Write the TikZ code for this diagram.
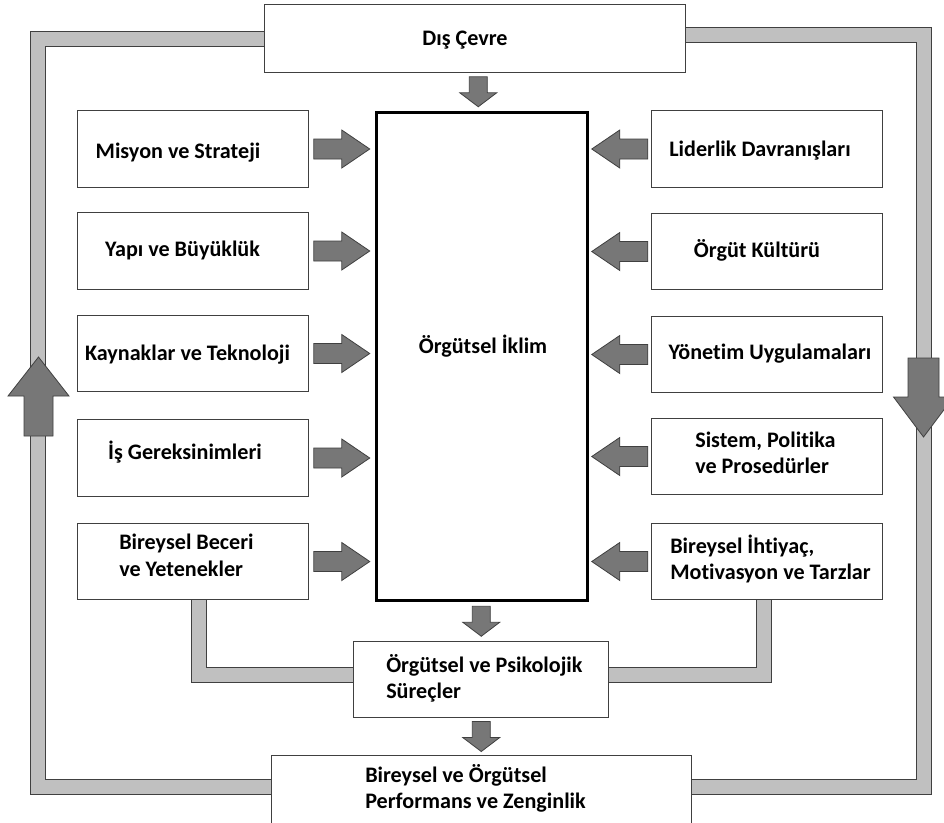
\documentclass[tikz,border=0pt]{standalone}
\usepackage{fontspec}
\setmainfont{Carlito}[Ligatures=CommonOff]
\usetikzlibrary{calc}

% one drawing unit = one pixel of a 944 x 822 canvas, y running downwards
\newlength\pxu
\setlength\pxu{0.75pt}

\definecolor{bandfill}{HTML}{C0C0C0}
\definecolor{edgegray}{HTML}{404040}
\definecolor{arrowfill}{HTML}{777777}

\pgfdeclarelayer{bands}
\pgfsetlayers{bands,main}

\tikzset{
  box/.style={rectangle, draw=edgegray, line width=1\pxu, fill=white, inner sep=0pt, anchor=north west},
  txt/.style={inner sep=0pt, font=\bfseries\fontsize{16.6}{20}\selectfont, anchor=base},
  txtl/.style={txt, anchor=base west},
  band/.style={draw=edgegray, line width=1\pxu, double=bandfill, double distance=14\pxu},
  blockarr/.style={draw=edgegray, line width=0.8\pxu, fill=arrowfill, line join=miter},
}

% block arrows centred on a named point
\newcommand\arrowright[1]{\draw[blockarr] ($(#1)+(-28,-10)$) -- ++(28,0) -- ++(0,-9) -- ++(28,19) -- ++(-28,19) -- ++(0,-9) -- ++(-28,0) -- cycle;}
\newcommand\arrowleft[1]{\draw[blockarr] ($(#1)+(28,-10)$) -- ++(-28,0) -- ++(0,-9) -- ++(-28,19) -- ++(28,19) -- ++(0,-9) -- ++(28,0) -- cycle;}
\newcommand\arrowdown[1]{\draw[blockarr] ($(#1)+(-9,-15)$) -- ++(0,16) -- ++(-9.5,0) -- ++(18.5,14) -- ++(18.5,-14) -- ++(-9.5,0) -- ++(0,-16) -- cycle;}

\begin{document}
\begin{tikzpicture}[x=0.75pt, y=-0.75pt]
\useasboundingbox (0,0) rectangle (944,822);
\clip (0,0) rectangle (944,822);

% ---- boxes ----
\node[box, minimum width=421\pxu, minimum height=68\pxu] (env) at (264,4) {};
\node[box, minimum width=231\pxu, minimum height=77\pxu] (l1) at (77,110) {};
\node[box, minimum width=231\pxu, minimum height=77\pxu] (l2) at (77,212) {};
\node[box, minimum width=231\pxu, minimum height=76\pxu] (l3) at (77,315) {};
\node[box, minimum width=231\pxu, minimum height=77\pxu] (l4) at (77,419) {};
\node[box, minimum width=231\pxu, minimum height=76\pxu] (l5) at (77,523) {};
\node[box, minimum width=231\pxu, minimum height=77\pxu] (r1) at (651,110) {};
\node[box, minimum width=231\pxu, minimum height=76\pxu] (r2) at (651,213) {};
\node[box, minimum width=231\pxu, minimum height=76\pxu] (r3) at (651,316) {};
\node[box, minimum width=231\pxu, minimum height=76\pxu] (r4) at (651,418) {};
\node[box, minimum width=231\pxu, minimum height=76\pxu] (r5) at (651,523) {};
\node[box, draw=black, line width=3\pxu, minimum width=211\pxu, minimum height=488\pxu] (ctr) at (374.5,110.5) {};
\node[box, minimum width=255\pxu, minimum height=76\pxu] (proc) at (353,641) {};
\node[box, minimum width=420\pxu, minimum height=80\pxu] (perf) at (271,755) {};

% ---- feedback bands, kept underneath the boxes ----
\coordinate (ol) at (38,786.5);
\coordinate (ortop) at (923.5,34.5);
\coordinate (or) at (923.5,786.5);
\coordinate (il) at (198.5,674.5);
\coordinate (ir) at (763.5,674.5);
\begin{pgfonlayer}{bands}
  \fill[white] (0,0) rectangle (944,822);
  \draw[band] (env.west) -| (ol) -- (ol -| perf.west);
  \draw[band] (env.east |- ortop) -- (ortop) -- (or) -- (or -| perf.east);
  \draw[band] (il |- l5.south) -- (il) -- (il -| proc.west);
  \draw[band] (ir |- r5.south) -- (ir) -- (ir -| proc.east);
\end{pgfonlayer}

% ---- large direction arrows on the outer loop ----
\draw[blockarr] (24,436) -- (24,396) -- (8,396) -- (38.5,357) -- (69,396) -- (53,396) -- (53,436) -- cycle;
\draw[blockarr] (908,358) -- (939,358) -- (939,397) -- (953.5,397) -- (923.5,437) -- (893.5,397) -- (908,397) -- cycle;

% ---- block arrows between boxes ----
\foreach \i in {1,...,5}{
  \coordinate (al\i) at ($(l\i.east)!0.5!(ctr.west |- l\i.east)$);
  \coordinate (ar\i) at ($(ctr.east |- r\i.west)!0.5!(r\i.west)$);
}
\arrowright{al1}\arrowright{al2}\arrowright{al3}\arrowright{al4}\arrowright{al5}
\arrowleft{ar1}\arrowleft{ar2}\arrowleft{ar3}\arrowleft{ar4}\arrowleft{ar5}
\coordinate (d1) at ($(env.south)!0.5!(ctr.north)$);
\coordinate (d2) at ($(ctr.south)!0.5!(proc.north)$);
\coordinate (d3) at ($(proc.south)!0.5!(perf.north)$);
\arrowdown{d1}\arrowdown{d2}\arrowdown{d3}

% ---- labels ----
\node[txt] (tenv) at (465,45) {Dış Çevre};
\node[txt] (tctr) at (483,353) {Örgütsel İklim};
\node[txt] (tl1) at (178,158) {Misyon ve Strateji};
\node[txt] (tl2) at (182.5,256) {Yapı ve Büyüklük};
\node[txt] (tl3) at (187.5,360) {Kaynaklar ve Teknoloji};
\node[txt] (tl4) at (185,459) {İş Gereksinimleri};
\node[txtl] (tl5a) at (119,549) {Bireysel Beceri};
\node[txtl] (tl5b) at (119,576) {ve Yetenekler};
\node[txt] (tr1) at (760,156) {Liderlik Davranışları};
\node[txt] (tr2) at (757,257) {Örgüt Kültürü};
\node[txt] (tr3) at (770,359) {Yönetim Uygulamaları};
\node[txtl] (tr4a) at (695,447) {Sistem, Politika};
\node[txtl] (tr4b) at (695,473) {ve Prosedürler};
\node[txtl] (tr5a) at (670,553) {Bireysel İhtiyaç,};
\node[txtl] (tr5b) at (670,579) {Motivasyon ve Tarzlar};
\node[txtl] (tpa) at (386,672) {Örgütsel ve Psikolojik};
\node[txtl] (tpb) at (386,698) {Süreçler};
\node[txtl] (tfa) at (365,782) {Bireysel ve Örgütsel};
\node[txtl] (tfb) at (365,808) {Performans ve Zenginlik};
\end{tikzpicture}
\end{document}
